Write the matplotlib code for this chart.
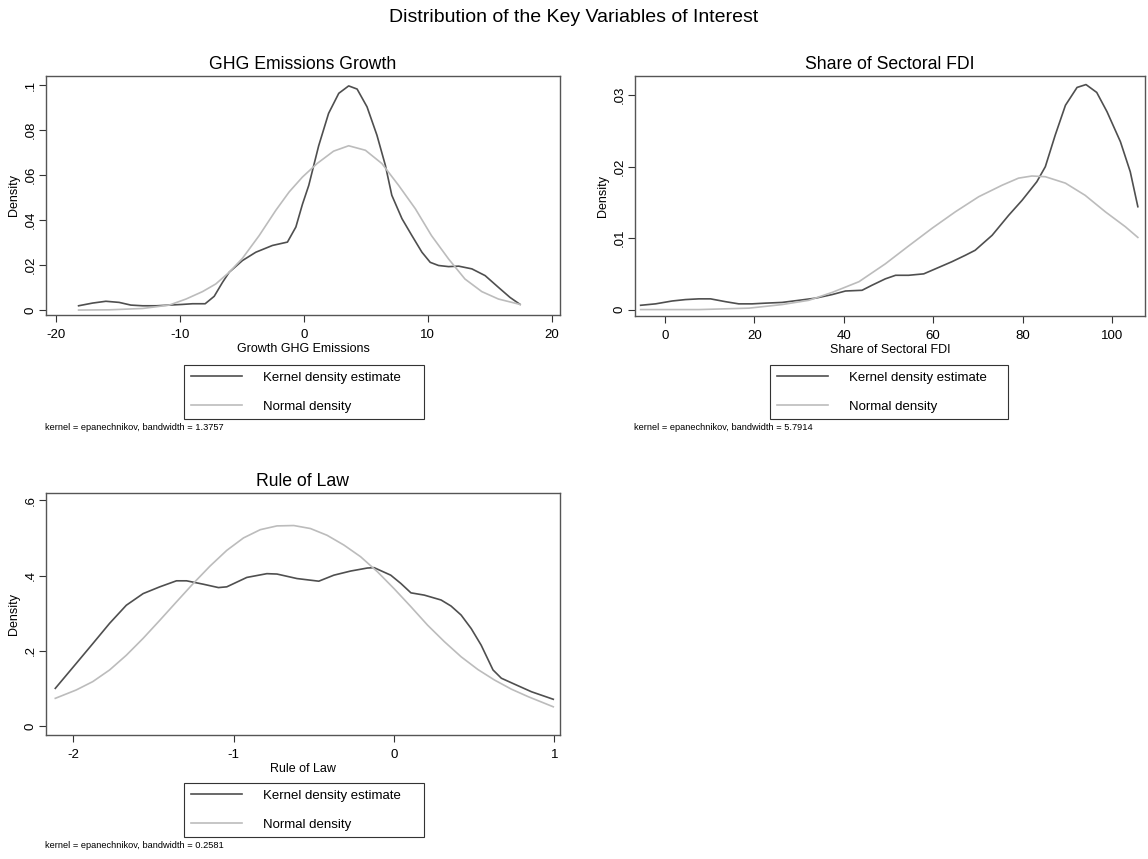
import matplotlib
matplotlib.use('Agg')
import matplotlib.pyplot as plt

plt.rcParams['font.family'] = ['Liberation Sans', 'DejaVu Sans']

# ---- data ----
ghg_kde_x = [-18.17, -17.04, -15.97, -14.9, -13.95, -13.0, -11.9, -10.86, -9.8, -8.98, -7.96, -7.23,
             -6.56, -6.02, -4.95, -3.87, -2.53, -1.32, -0.64, -0.11, 0.4, 1.2, 2.0, 2.82, 3.62, 4.3,
             5.1, 5.9, 6.58, 7.1, 7.92, 8.72, 9.53, 10.2, 10.87, 11.68, 12.5, 13.56, 14.63, 15.7,
             16.64, 17.45]
ghg_kde_y = [.0019, .0031, .0039, .0034, .0022, .0019, .0019, .0022, .0025, .0028, .0028, .0061,
             .0123, .0168, .022, .0257, .0287, .0302, .0369, .047, .0554, .073, .0874, .0963, .0996,
             .0982, .0903, .0777, .0643, .051, .0406, .0331, .0257, .0212, .0198, .0193, .0195,
             .0183, .0153, .0101, .0056, .0025]
ghg_norm_x = [-18.17, -15.7, -13.0, -10.86, -9.5, -8.17, -7.1, -6.02, -4.95, -3.6, -2.26, -1.18,
              -0.11, 1.07, 2.4, 3.62, 4.97, 6.3, 7.65, 9.0, 10.3, 11.68, 13.0, 14.36, 15.7, 17.45]
ghg_norm_y = [.0000, .0001, .0007, .0022, .0049, .0082, .0116, .0168, .023, .0331, .0443, .0525,
              .0591, .0651, .0706, .073, .071, .0651, .0554, .045, .0331, .0227, .0138, .0082,
              .0049, .0025]

fdi_kde_x = [-5.44, -2.1, 1.6, 4.6, 7.6, 10.2, 13.6, 16.5, 19.5, 22.5, 26.2, 30, 33.7, 37.4, 40.4,
             44.1, 46.3, 49.3, 51.6, 54.5, 57.9, 60.5, 64.2, 67.2, 69.4, 73.2, 76.9, 79.9, 83.2,
             85.1, 87.3, 89.6, 92.2, 94.2, 96.6, 98.9, 101.9, 104.1, 105.8]
fdi_kde_y = [.0006, .0008, .0012, .0014, .0015, .0015, .0011, .0008, .0008, .0009, .001, .0013,
             .0016, .0021, .0026, .0027, .0034, .0043, .0048, .0048, .005, .0057, .0067, .0076,
             .0083, .0104, .0132, .0153, .0179, .020, .0244, .0286, .0311, .0315, .0304, .0277,
             .0235, .0193, .0144]
fdi_norm_x = [-5.44, 7.6, 18.8, 26.2, 32.2, 37.4, 43.4, 49.3, 54.5, 59.8, 65, 70.2, 75.4, 79.1,
              82.1, 85.1, 89.6, 94, 98.5, 103, 105.8]
fdi_norm_y = [.0000, .0000, .0002, .0007, .0013, .0024, .0039, .0064, .0089, .0114, .0137, .0158,
              .0174, .0184, .0187, .0186, .0177, .016, .0137, .0116, .0101]

law_kde_x = [-2.113, -1.983, -1.879, -1.774, -1.67, -1.565, -1.461, -1.357, -1.294, -1.19, -1.095,
             -1.043, -0.918, -0.793, -0.730, -0.605, -0.469, -0.375, -0.27, -0.166, -0.124, -0.02,
             0.043, 0.106, 0.189, 0.294, 0.356, 0.419, 0.482, 0.544, 0.618, 0.670, 0.753, 0.858,
             0.994]
law_kde_y = [.100, .166, .219, .273, .321, .352, .370, .386, .386, .377, .368, .370, .395, .405,
             .404, .392, .385, .401, .412, .420, .421, .401, .379, .354, .348, .335, .319, .295,
             .259, .215, .149, .127, .111, .091, .071]
law_norm_x = [-2.113, -1.983, -1.879, -1.774, -1.67, -1.565, -1.461, -1.357, -1.252, -1.148, -1.043,
              -0.939, -0.834, -0.730, -0.625, -0.521, -0.417, -0.312, -0.208, -0.103, 0.001, 0.106,
              0.210, 0.315, 0.419, 0.524, 0.628, 0.732, 0.837, 0.994]
law_norm_y = [.0735, .0956, .118, .149, .188, .233, .281, .330, .379, .425, .467, .500, .522, .532,
              .533, .525, .507, .481, .450, .410, .365, .317, .268, .224, .184, .150, .122, .098,
              .078, .051]

ghg_xticks = [-20, -10, 0, 10, 20]
ghg_yticks = [0, .02, .04, .06, .08, .1]
ghg_ylabels = ['0', '.02', '.04', '.06', '.08', '.1']
fdi_xticks = [0, 20, 40, 60, 80, 100]
fdi_yticks = [0, .01, .02, .03]
fdi_ylabels = ['0', '.01', '.02', '.03']
law_xticks = [-2, -1, 0, 1]
law_yticks = [0, .2, .4, .6]
law_ylabels = ['0', '.2', '.4', '.6']

W, H = 1148, 859
fig = plt.figure(figsize=(W/100, H/100), dpi=100)
fig.patch.set_facecolor('white')

def rect(l, t, r, b):
  return [l/W, 1 - b/H, (r - l)/W, (b - t)/H]

kde_col = '#4f4f4f'
norm_col = '#bcbcbc'

def panel(box, title, kx, ky, nx, ny, xt, yt, ylab, xlim, ylim, xlabel, bw, leg):
  ax = fig.add_axes(rect(*box))
  ax.plot(kx, ky, color=kde_col, lw=1.2, label='Kernel density estimate')
  ax.plot(nx, ny, color=norm_col, lw=1.2, label='Normal density')
  ax.set_xlim(*xlim)
  ax.set_ylim(*ylim)
  ax.set_xticks(xt)
  ax.set_xticklabels([str(v) for v in xt])
  ax.set_yticks(yt)
  ax.set_yticklabels(ylab, rotation=90, va='center')
  ax.tick_params(direction='out', length=5, width=0.8, color='#333333', labelsize=9.5)
  ax.tick_params(axis='x', pad=5)
  ax.tick_params(axis='y', pad=2)
  for s in ax.spines.values():
    s.set_color('#555555')
    s.set_linewidth(1.0)
  ax.set_title(title, fontsize=12.7, pad=5)
  ax.set_ylabel('Density', fontsize=9, labelpad=3)
  ax.set_xlabel(xlabel, fontsize=9, labelpad=1.5)
  l, t, r = leg
  lg = ax.legend(loc='upper left', bbox_to_anchor=(l/W, 1 - t/H, (r - l)/W, 0), mode='expand',
                 bbox_transform=fig.transFigure, borderaxespad=0,
                 fontsize=9.5, frameon=True, fancybox=False, edgecolor='#333333', framealpha=1,
                 handlelength=3.9, handletextpad=1.6, labelspacing=1.25, borderpad=0.5)
  lg.get_frame().set_linewidth(0.8)
  fig.text((box[0] - 1)/W, 1 - (t + 63)/H, 'kernel = epanechnikov, bandwidth = ' + bw,
           fontsize=6.7, ha='left', va='center')
  return ax

panel((46, 76, 560, 315), 'GHG Emissions Growth', ghg_kde_x, ghg_kde_y, ghg_norm_x, ghg_norm_y,
      ghg_xticks, ghg_yticks, ghg_ylabels, (-20.8, 20.67), (-0.0022, 0.104), 'Growth GHG Emissions',
      '1.3757', (184, 365, 424))
panel((635, 76, 1145, 316), 'Share of Sectoral FDI', fdi_kde_x, fdi_kde_y, fdi_norm_x, fdi_norm_y,
      fdi_xticks, fdi_yticks, fdi_ylabels, (-6.7, 107.4), (-0.0009, 0.0327), 'Share of Sectoral FDI',
      '5.7914', (770, 365, 1008))
panel((46, 493, 560, 735), 'Rule of Law', law_kde_x, law_kde_y, law_norm_x, law_norm_y,
      law_xticks, law_yticks, law_ylabels, (-2.171, 1.036), (-0.024, 0.6195), 'Rule of Law',
      '0.2581', (184, 783, 424))

fig.suptitle('Distribution of the Key Variables of Interest', fontsize=14, y=1 - 18/H, va='center')

plt.savefig('out.png', dpi=100)
